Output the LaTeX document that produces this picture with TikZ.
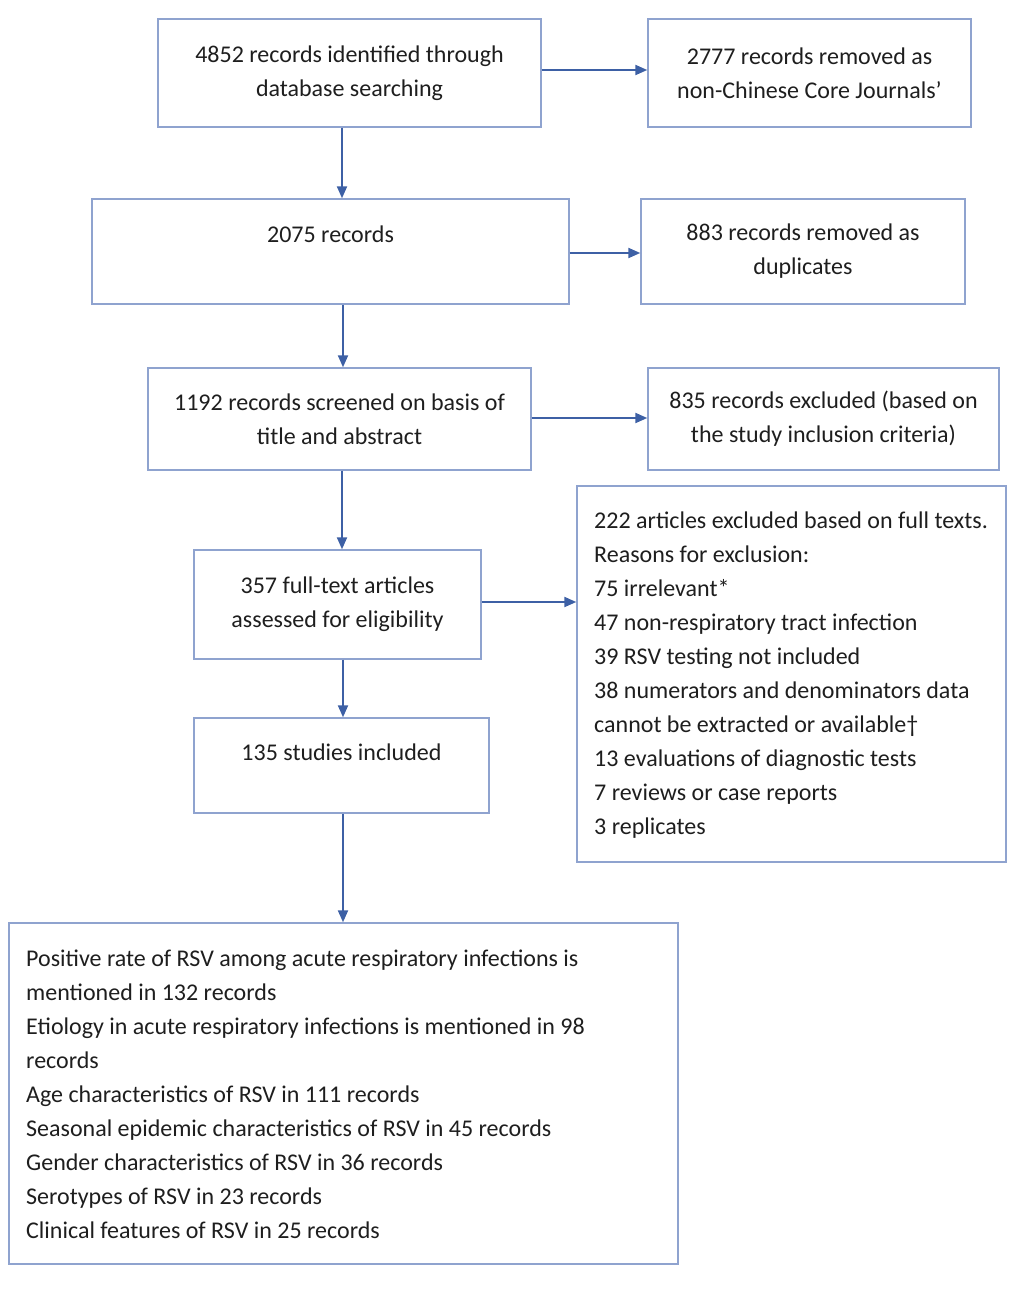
\documentclass[tikz,border=0pt]{standalone}
\usepackage{fontspec}
\setmainfont{Carlito}
\usetikzlibrary{arrows.meta}
\definecolor{boxc}{RGB}{143,163,207}
\definecolor{arrc}{RGB}{61,96,165}
\definecolor{txtc}{RGB}{30,30,30}
\begin{document}
\begin{tikzpicture}[x=1pt,y=-1pt,
  every node/.style={font=\fontsize{24}{34}\selectfont, text=txtc},
  flowbox/.style={draw=boxc, line width=1.4pt, rectangle, inner sep=0pt, align=center},
  plaintext/.style={inner sep=0pt},
  arr/.style={draw=arrc, line width=2pt, -{Triangle[length=12pt,width=10pt]}}]
\useasboundingbox (0,0) rectangle (1024,1308);
% boxes
\node[flowbox, minimum width=383pt, minimum height=108pt] (A) at (349.5,73) {4852 records identified through\\database searching};
\node[flowbox, minimum width=323pt, minimum height=108pt] (B) at (809.5,73) {2777 records removed as\\non-Chinese Core Journals’};
\node[flowbox, minimum width=477pt, minimum height=105pt] (C) at (330.5,251.5) {};
\node[plaintext, anchor=base] (Ct) at (330.5,242) {2075 records};
\node[flowbox, minimum width=324pt, minimum height=105pt] (D) at (803,251.5) {883 records removed as\\duplicates};
\node[flowbox, minimum width=383pt, minimum height=102pt] (E) at (339.5,419) {1192 records screened on basis of\\title and abstract};
\node[flowbox, minimum width=351pt, minimum height=102pt] (F) at (823.5,419) {835 records excluded (based on\\the study inclusion criteria)};
\node[flowbox, minimum width=287pt, minimum height=109pt] (G) at (337.5,604.5) {357 full-text articles\\assessed for eligibility};
\node[flowbox, minimum width=429pt, minimum height=376pt] (H) at (791.5,674) {};
\node[plaintext, anchor=base west, text width=420pt, align=flush left] (Ht) at (594,528) {\spaceskip=0pt\xspaceskip=0pt 222 articles excluded based on full texts.\\Reasons for exclusion:\\75 irrelevant*\\47 non-respiratory tract infection\\39 RSV testing not included\\38 numerators and denominators data\\cannot be extracted or available†\\13 evaluations of diagnostic tests\\7 reviews or case reports\\3 replicates};
\node[flowbox, minimum width=295pt, minimum height=95pt] (I) at (341.5,765.5) {};
\node[plaintext, anchor=base] (It) at (341.5,760) {135 studies included};
\node[flowbox, minimum width=669pt, minimum height=341pt] (J) at (343.5,1093.5) {};
\node[plaintext, anchor=base west, text width=640pt, align=flush left] (Jt) at (26,966) {\spaceskip=0pt\xspaceskip=0pt Positive rate of RSV among acute respiratory infections is\\mentioned in 132 records\\Etiology in acute respiratory infections is mentioned in 98\\records\\Age characteristics of RSV in 111 records\\Seasonal epidemic characteristics of RSV in 45 records\\Gender characteristics of RSV in 36 records\\Serotypes of RSV in 23 records\\Clinical features of RSV in 25 records};
% helper coordinates
\coordinate (yab) at (0,70);
\coordinate (ycd) at (0,253);
\coordinate (yef) at (0,418);
\coordinate (ygh) at (0,602);
\coordinate (xa) at (342,0);
\coordinate (xb) at (343,0);
% connectors
\draw[arr] (A.east |- yab) -- (B.west |- yab);
\draw[arr] (A.south -| xa) -- (C.north -| xa);
\draw[arr] (C.east |- ycd) -- (D.west |- ycd);
\draw[arr] (C.south -| xb) -- (E.north -| xb);
\draw[arr] (E.east |- yef) -- (F.west |- yef);
\draw[arr] (E.south -| xa) -- (G.north -| xa);
\draw[arr] (G.east |- ygh) -- (H.west |- ygh);
\draw[arr] (G.south -| xb) -- (I.north -| xb);
\draw[arr] (I.south -| xb) -- (J.north -| xb);
\end{tikzpicture}
\end{document}
